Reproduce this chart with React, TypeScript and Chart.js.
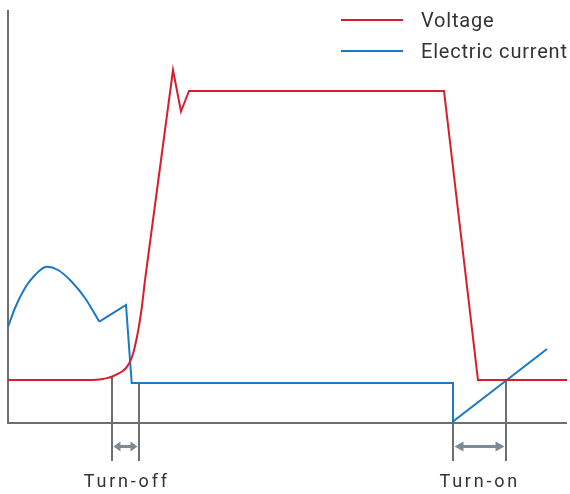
import { useEffect, useRef } from 'react';
import Chart from 'chart.js/auto';

// Time (x) and amplitude (y) in arbitrary units
const voltageRiseX = [0, 80, 88, 95, 100, 103.7, 108, 113.7, 118, 121.3, 124, 126.3, 130.3, 133.7, 137];
const voltageRiseY = [43, 43, 43.3, 44.1, 45.1, 46.3, 48.3, 51.3, 55, 60, 66, 74, 93, 115, 143];
const voltageMainX = [137, 165, 173, 181, 436, 470, 559];
const voltageMainY = [143, 353, 311.5, 332, 332, 43, 43];

const currentHumpX = [0, 7, 17, 27, 38.7, 50, 63.7, 77, 91.3];
const currentHumpY = [96, 115, 135, 148, 156.3, 153, 141.3, 125, 101.3];
const currentMainX = [91.3, 118, 123.7, 445, 445, 539];
const currentMainY = [101.3, 118, 40, 40, 1.5, 74];

const turnOffX = [103.5, 131];
const turnOffTop = [46.5, 40];
const turnOnX = [445, 497.5];
const turnOnTop = [0, 43];

const seriesNames = ['Voltage', 'Electric current'];
const phaseLabels = ['Turn-off', 'Turn-on'];

const RED = '#d61f2b';
const BLUE = '#1a79c3';
const AXIS = '#6e6e6e';
const ARROW = '#7e8992';
const TEXT = '#333333';

const zip = (xs: number[], ys: number[]) => xs.map((x, i) => ({ x, y: ys[i] }));

const overlay = {
  id: 'overlay',
  beforeDatasetsDraw(chart: any) {
    const { ctx, chartArea } = chart;
    const xs = chart.scales.x;
    const ys = chart.scales.y;
    ctx.save();
    // axes
    ctx.strokeStyle = AXIS;
    ctx.lineWidth = 2;
    ctx.beginPath();
    ctx.moveTo(chartArea.left, chartArea.top);
    ctx.lineTo(chartArea.left, chartArea.bottom);
    ctx.lineTo(chartArea.right, chartArea.bottom);
    ctx.stroke();
    // marker lines
    const base = ys.getPixelForValue(0);
    const bottom = base + 38;
    const drawLines = (xv: number[], tv: number[]) => {
      xv.forEach((v, i) => {
        const px = Math.round(xs.getPixelForValue(v));
        ctx.beginPath();
        ctx.moveTo(px, ys.getPixelForValue(tv[i]));
        ctx.lineTo(px, bottom);
        ctx.stroke();
      });
    };
    drawLines(turnOffX, turnOffTop);
    drawLines(turnOnX, turnOnTop);
    // arrows
    const arrowY = base + 23.5;
    const drawArrow = (a: number, b: number, head: number) => {
      const x1 = Math.round(xs.getPixelForValue(a)) + 1.5;
      const x2 = Math.round(xs.getPixelForValue(b)) - 1.5;
      ctx.strokeStyle = ARROW;
      ctx.fillStyle = ARROW;
      ctx.lineWidth = 3;
      ctx.beginPath();
      ctx.moveTo(x1 + head - 1, arrowY);
      ctx.lineTo(x2 - head + 1, arrowY);
      ctx.stroke();
      ctx.beginPath();
      ctx.moveTo(x1, arrowY);
      ctx.lineTo(x1 + head, arrowY - 5);
      ctx.lineTo(x1 + head, arrowY + 5);
      ctx.closePath();
      ctx.fill();
      ctx.beginPath();
      ctx.moveTo(x2, arrowY);
      ctx.lineTo(x2 - head, arrowY - 5);
      ctx.lineTo(x2 - head, arrowY + 5);
      ctx.closePath();
      ctx.fill();
    };
    drawArrow(turnOffX[0], turnOffX[1], 7);
    drawArrow(turnOnX[0], turnOnX[1], 9);
    // phase labels
    ctx.fillStyle = TEXT;
    ctx.font = '18px Roboto';
    (ctx as any).letterSpacing = '2.8px';
    ctx.textAlign = 'center';
    ctx.textBaseline = 'alphabetic';
    const labelY = base + 64;
    const cOff = (xs.getPixelForValue(turnOffX[0]) + xs.getPixelForValue(turnOffX[1])) / 2;
    const cOn = (xs.getPixelForValue(turnOnX[0]) + xs.getPixelForValue(turnOnX[1])) / 2;
    ctx.fillText(phaseLabels[0], cOff + 1.5, labelY);
    ctx.fillText(phaseLabels[1], cOn + 0.5, labelY);
    (ctx as any).letterSpacing = '0px';
    ctx.restore();
  },
  afterDraw(chart: any) {
    const { ctx } = chart;
    ctx.save();
    const items = [
      { name: seriesNames[0], color: RED, y: 20 },
      { name: seriesNames[1], color: BLUE, y: 51 },
    ];
    ctx.font = '20px Roboto';
    (ctx as any).letterSpacing = '0.8px';
    ctx.textAlign = 'left';
    ctx.textBaseline = 'middle';
    items.forEach((it) => {
      ctx.strokeStyle = it.color;
      ctx.lineWidth = 2;
      ctx.beginPath();
      ctx.moveTo(341, it.y);
      ctx.lineTo(403, it.y);
      ctx.stroke();
      ctx.fillStyle = TEXT;
      ctx.fillText(it.name, 421, it.y + 2);
    });
    (ctx as any).letterSpacing = '0px';
    ctx.restore();
  },
};

export default function App() {
  const ref = useRef<HTMLCanvasElement>(null);
  useEffect(() => {
    document.body.style.margin = '0';
    const common = { pointRadius: 0, borderWidth: 2, fill: false };
    const chart = new Chart(ref.current as HTMLCanvasElement, {
      type: 'line',
      data: {
        datasets: [
          { ...common, label: seriesNames[0], data: zip(voltageRiseX, voltageRiseY), borderColor: RED, cubicInterpolationMode: 'monotone' },
          { ...common, label: seriesNames[0], data: zip(voltageMainX, voltageMainY), borderColor: RED, tension: 0 },
          { ...common, label: seriesNames[1], data: zip(currentHumpX, currentHumpY), borderColor: BLUE, cubicInterpolationMode: 'monotone' },
          { ...common, label: seriesNames[1], data: zip(currentMainX, currentMainY), borderColor: BLUE, tension: 0 },
        ] as any,
      },
      options: {
        responsive: false,
        animation: false,
        layout: { padding: { left: 8, top: 10, right: 3, bottom: 71 } },
        scales: {
          x: { type: 'linear', min: 0, max: 559, display: false },
          y: { type: 'linear', min: 0, max: 413, display: false },
        },
        plugins: { legend: { display: false }, tooltip: { enabled: false } },
        elements: { line: { borderCapStyle: 'butt', borderJoinStyle: 'miter' } },
      } as any,
      plugins: [overlay],
    });
    return () => chart.destroy();
  }, []);
  return (
    <div style={{ width: 570, height: 494 }}>
      <canvas ref={ref} width={570} height={494} style={{ display: 'block' }} />
    </div>
  );
}
